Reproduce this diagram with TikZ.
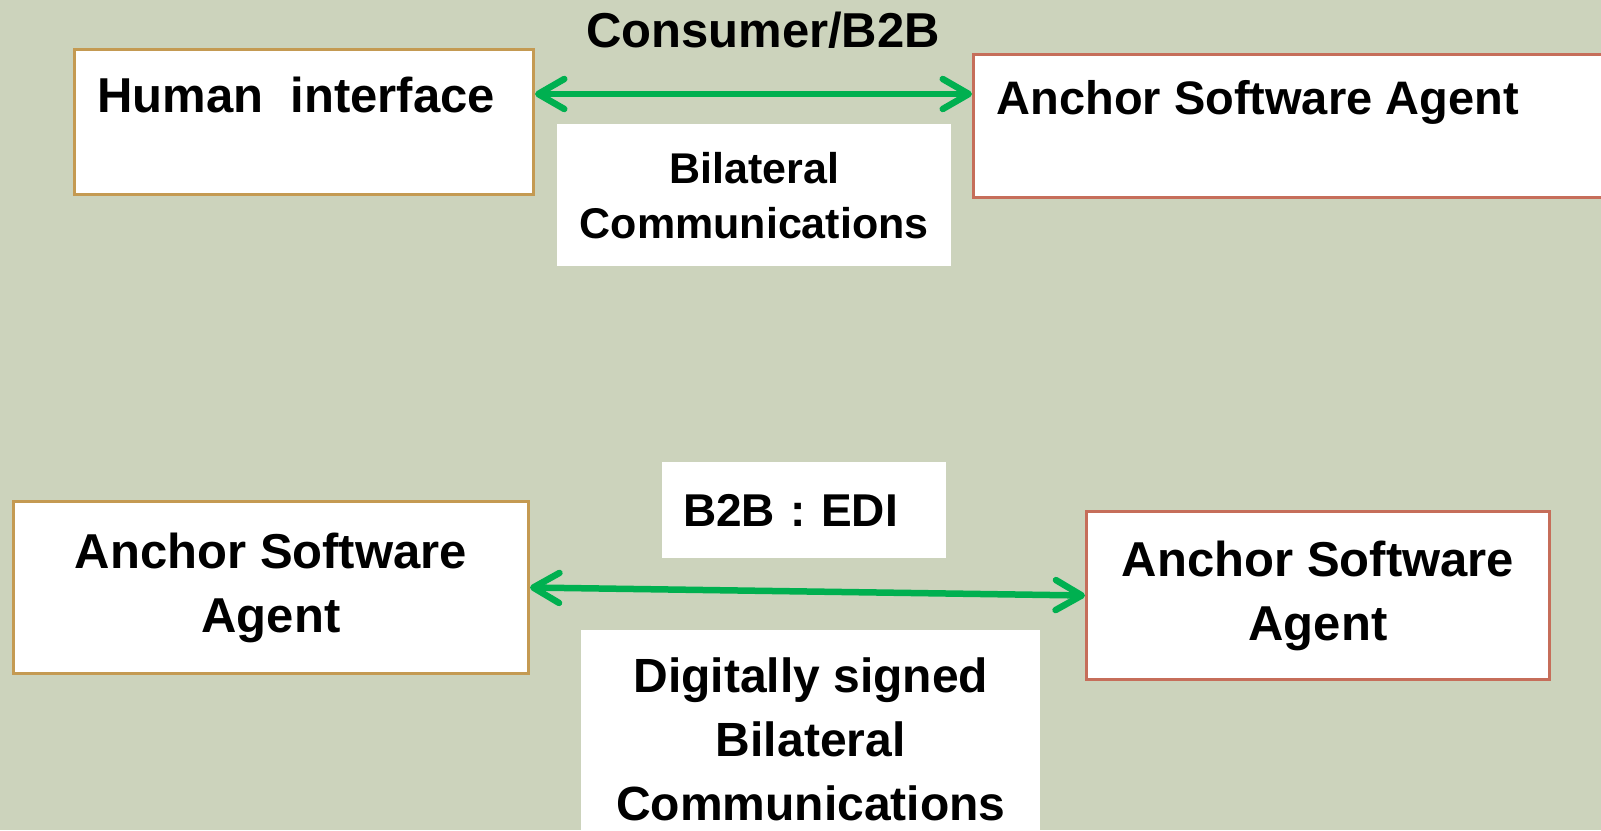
\documentclass[tikz,border=0pt]{standalone}
\usepackage{fontspec}
\setmainfont{Liberation Sans}
\usetikzlibrary{arrows.meta,positioning,calc}
\definecolor{sagebg}{RGB}{204,211,188}
\definecolor{tanline}{RGB}{196,154,82}
\definecolor{rustline}{RGB}{198,110,90}
\definecolor{linkgreen}{RGB}{0,176,80}
\tikzset{
  agbox/.style={draw, rectangle, fill=white, line width=3pt, inner sep=0pt, anchor=north west},
  agnote/.style={fill=white, rectangle, inner sep=0pt, anchor=north west},
  agfont/.style 2 args={font=\bfseries\fontsize{#1}{#2}\selectfont},
  agarrow/.style={{Straight Barb[length=26pt, width=30pt, round]}-{Straight Barb[length=26pt, width=30pt, round]},
    draw=linkgreen, line width=6.5pt},
}

\begin{document}
\begin{tikzpicture}[x=1pt,y=-1pt]
  \useasboundingbox (0,0) rectangle (1601,830);
  \clip (0,0) rectangle (1601,830);
  \fill[sagebg] (0,0) rectangle (1601,830);

  % consumer / B2B row
  \node[agbox, draw=tanline, minimum width=459pt, minimum height=145pt] (human) at (73,48) {};
  \node[anchor=base west, agfont={49}{60}] (humantext) at ($(human.north west)+(21,64)$) {Human~~interface};
  \node[agbox, draw=rustline, minimum width=700pt, minimum height=143pt] (agentA) at (972,53) {};
  \node[anchor=base west, agfont={47}{60}] (agentAtext) at ($(agentA.north west)+(21,61)$) {Anchor Software Agent};

  \node[anchor=base, agfont={49}{60}] (channel) at (763,47) {Consumer/B2B};
  \node[agnote, minimum width=394pt, minimum height=142pt, align=center, agfont={43}{55}] (bilat) at (557,124)
    {Bilateral\\Communications};

  \coordinate (topline) at (750,94);
  \draw[agarrow] (human.east |- topline) -- (agentA.west |- topline);

  % B2B : EDI row
  \node[agbox, draw=tanline, minimum width=515pt, minimum height=172pt, align=center, agfont={49}{64}] (agentB) at (12,500)
    {Anchor Software\\Agent};
  \node[agbox, draw=rustline, minimum width=463pt, minimum height=168pt, align=center, agfont={49}{64}] (agentC) at (1085,510)
    {Anchor Software\\Agent};

  \node[agnote, minimum width=284pt, minimum height=96pt, text width=242pt, inner xsep=21pt, align=left, agfont={46}{60}] (edi) at (662,462)
    {B2B : EDI};
  \node[agnote, minimum width=459pt, minimum height=218pt, align=center, agfont={48}{64}] (signed) at (581,630)
    {Digitally signed\\Bilateral\\Communications};

  \draw[agarrow] (agentB.east) -- (agentC.west);
\end{tikzpicture}
\end{document}
